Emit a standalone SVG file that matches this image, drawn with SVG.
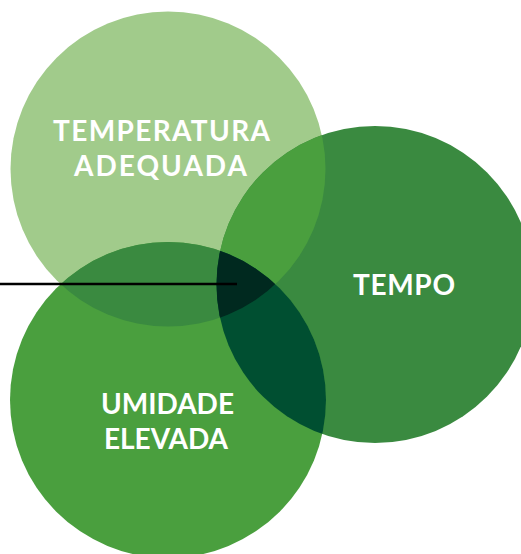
<svg xmlns="http://www.w3.org/2000/svg" width="521" height="554" viewBox="0 0 521 554">
<style>
.lbl{font-family:Lato,"Open Sans","Liberation Sans",sans-serif;font-weight:700;font-size:28px;fill:#fff;text-anchor:middle}
</style>
<defs>
<clipPath id="cT"><circle cx="168" cy="169" r="157.5"/></clipPath>
<clipPath id="cR"><circle cx="375" cy="284.5" r="158.5"/></clipPath>
<clipPath id="cB"><circle cx="168" cy="400" r="158"/></clipPath>
</defs>
<rect width="521" height="554" fill="#fff"/>
<g id="temperatura">
<circle cx="168" cy="169" r="157.5" fill="#A1CB8B"/>
</g>
<g id="tempo">
<circle cx="375" cy="284.5" r="158.5" fill="#3A8A40"/>
</g>
<g id="umidade">
<circle cx="168" cy="400" r="158" fill="#4A9F3E"/>
</g>
<g id="overlaps">
<circle cx="375" cy="284.5" r="158.5" fill="#4A9F3E" clip-path="url(#cT)"/>
<circle cx="168" cy="400" r="158" fill="#3A8A40" clip-path="url(#cT)"/>
<g clip-path="url(#cR)">
<circle cx="168" cy="400" r="158" fill="#004F31"/>
<circle cx="168" cy="400" r="158" fill="#00291F" clip-path="url(#cT)"/>
</g>
</g>
<g id="connectors">
<line x1="0" y1="284" x2="237" y2="284" stroke="#000" stroke-width="2.5"/>
</g>
<g id="labels">
<text class="lbl" x="161.5" y="141" textLength="217" lengthAdjust="spacing">TEMPERATURA</text>
<text class="lbl" x="160.5" y="176" textLength="173" lengthAdjust="spacing">ADEQUADA</text>
<text class="lbl" x="404" y="295" textLength="102" lengthAdjust="spacing">TEMPO</text>
<text class="lbl" x="167.5" y="414" textLength="133" lengthAdjust="spacing">UMIDADE</text>
<text class="lbl" x="166" y="449" textLength="124" lengthAdjust="spacing">ELEVADA</text>
</g>
</svg>
